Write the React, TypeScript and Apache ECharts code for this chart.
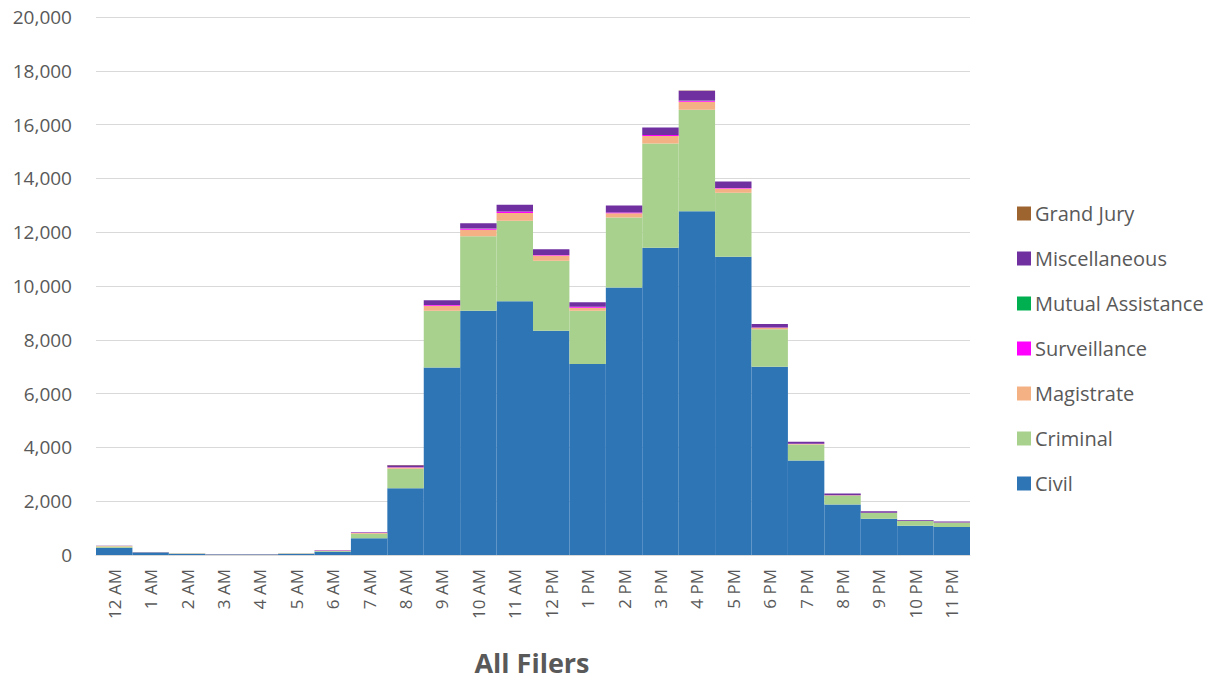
import React, { useEffect, useRef } from "react";
import * as echarts from "echarts";

const hours = ["12 AM","1 AM","2 AM","3 AM","4 AM","5 AM","6 AM","7 AM","8 AM","9 AM","10 AM","11 AM","12 PM","1 PM","2 PM","3 PM","4 PM","5 PM","6 PM","7 PM","8 PM","9 PM","10 PM","11 PM"];

const civil =        [270, 90, 50, 20, 20, 50, 120, 620, 2480, 6970, 9080, 9430, 8340, 7100, 9940, 11420, 12780, 11090, 7000, 3510, 1880, 1350, 1090, 1040];
const criminal =     [50, 10, 10, 10, 10, 10, 40, 170, 730, 2110, 2770, 3000, 2600, 1980, 2610, 3880, 3770, 2380, 1390, 600, 320, 210, 170, 160];
const magistrate =   [10, 5, 3, 2, 2, 3, 10, 30, 40, 190, 240, 280, 190, 110, 150, 280, 300, 150, 60, 20, 20, 10, 10, 10];
const surveillance = [2, 1, 1, 0, 0, 1, 2, 5, 10, 20, 50, 60, 20, 40, 30, 30, 40, 20, 10, 5, 3, 2, 2, 2];
const mutual =       [0, 0, 0, 0, 0, 0, 0, 0, 1, 2, 3, 3, 2, 2, 3, 3, 3, 2, 1, 1, 0, 0, 0, 0];
const misc =         [10, 10, 5, 2, 2, 5, 10, 25, 80, 180, 190, 250, 210, 160, 260, 280, 370, 240, 130, 70, 60, 50, 30, 30];
const grandJury =    [0, 0, 0, 0, 0, 0, 0, 0, 1, 2, 2, 2, 2, 1, 2, 2, 2, 1, 1, 0, 0, 0, 0, 0];

const seriesDefs = [
  { name: "Civil", data: civil, color: "#2E75B6" },
  { name: "Criminal", data: criminal, color: "#A9D18E" },
  { name: "Magistrate", data: magistrate, color: "#F4B183" },
  { name: "Surveillance", data: surveillance, color: "#FF00FF" },
  { name: "Mutual Assistance", data: mutual, color: "#00B050" },
  { name: "Miscellaneous", data: misc, color: "#7030A0" },
  { name: "Grand Jury", data: grandJury, color: "#9E642F" },
];

const FONT = "'Open Sans', Lato, sans-serif";

export default function App() {
  const ref = useRef<HTMLDivElement>(null);
  useEffect(() => {
    if (!ref.current) return;
    const chart = echarts.init(ref.current, undefined, { renderer: "svg" });
    chart.setOption({
      animation: false,
      backgroundColor: "#ffffff",
      textStyle: { fontFamily: FONT },
      title: {
        text: "All Filers",
        left: 527,
        textAlign: "center",
        top: 644,
        textStyle: { fontSize: 27, fontWeight: "bold", color: "#595959", fontFamily: FONT },
      },
      legend: {
        orient: "vertical",
        left: 1012,
        top: 198,
        itemWidth: 14,
        itemHeight: 14,
        itemGap: 24,
        icon: "rect",
        data: seriesDefs.map((s) => s.name).reverse(),
        textStyle: { fontSize: 20, color: "#595959", fontFamily: FONT, lineHeight: 21, padding: [0, 0, 0, -1] },
      },
      grid: { left: 96, right: 247, top: 17, bottom: 126, containLabel: false },
      xAxis: {
        type: "category",
        data: hours,
        axisLine: { show: true, lineStyle: { color: "#D9D9D9", width: 1 } },
        axisTick: { show: false },
        axisLabel: { rotate: 90, fontSize: 17, color: "#595959", margin: 14, fontFamily: FONT },
      },
      yAxis: {
        type: "value",
        min: 0,
        max: 20000,
        interval: 2000,
        axisLine: { show: false },
        axisTick: { show: false },
        splitLine: { lineStyle: { color: "#D9D9D9", width: 1 } },
        axisLabel: {
          fontSize: 19,
          color: "#595959",
          margin: 24,
          fontFamily: FONT,
          formatter: (v: number) => v.toLocaleString("en-US"),
        },
      },
      series: seriesDefs.map((s) => ({
        name: s.name,
        type: "bar",
        stack: "total",
        data: s.data,
        barCategoryGap: "0%",
        itemStyle: { color: s.color, borderWidth: 0 },
      })),
    });
    return () => chart.dispose();
  }, []);
  return <div ref={ref} style={{ width: 1217, height: 681, position: "absolute", left: 0, top: 0 }} />;
}
